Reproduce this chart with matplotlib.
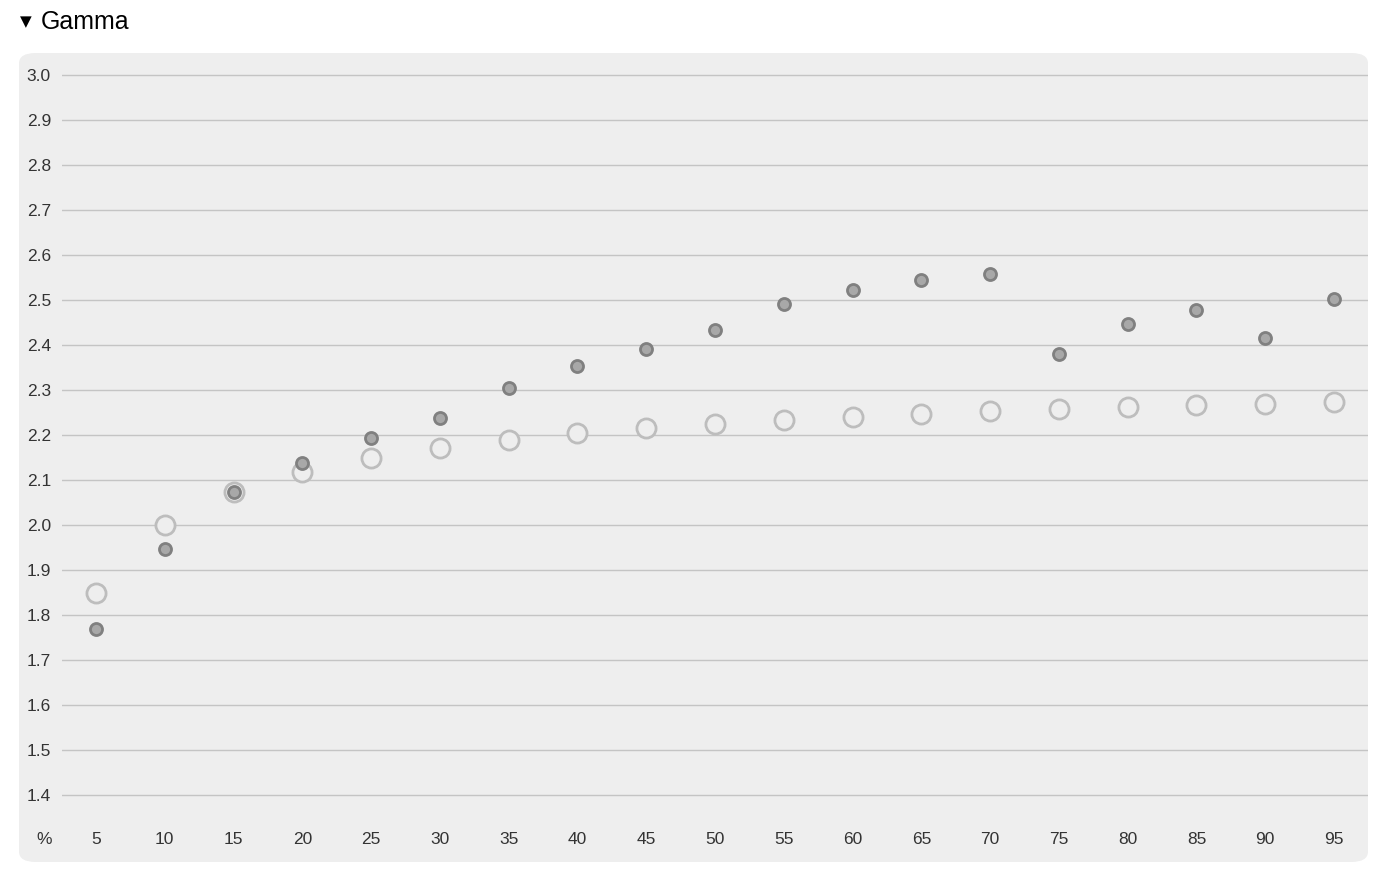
import matplotlib.pyplot as plt
from matplotlib.patches import FancyBboxPatch

plt.rcParams['font.family'] = ['Liberation Sans', 'DejaVu Sans']

W, H = 1380, 876

percent = [5, 10, 15, 20, 25, 30, 35, 40, 45, 50, 55, 60, 65, 70, 75, 80, 85, 90, 95]
gamma_measured = [1.769, 1.947, 2.073, 2.138, 2.193, 2.238, 2.304, 2.353, 2.391, 2.433,
                  2.491, 2.522, 2.544, 2.558, 2.380, 2.447, 2.478, 2.416, 2.502]
gamma_target = [1.849, 2.000, 2.073, 2.118, 2.149, 2.171, 2.189, 2.204, 2.216, 2.224,
                2.233, 2.240, 2.247, 2.253, 2.258, 2.262, 2.267, 2.269, 2.273]
y_ticks = [1.4, 1.5, 1.6, 1.7, 1.8, 1.9, 2.0, 2.1, 2.2, 2.3, 2.4, 2.5, 2.6, 2.7, 2.8, 2.9, 3.0]

fig = plt.figure(figsize=(W / 100, H / 100), dpi=100)
fig.patch.set_facecolor('white')

# painel de fundo arredondado (atrás dos eixos)
panel = FancyBboxPatch((19 / W, 1 - 862 / H), (1368 - 19) / W, (862 - 53) / H,
                       boxstyle="round,pad=0,rounding_size=0.012",
                       transform=fig.transFigure, facecolor='#eeeeee', edgecolor='none',
                       zorder=-10)
fig.patches.append(panel)

fig.text(20 / W, 1 - 22 / H, "\u25BC", fontsize=11, va='center', ha='left', family='DejaVu Sans')
fig.text(41 / W, 1 - 22 / H, "Gamma", fontsize=18, va='center', ha='left')

ax = fig.add_axes([62 / W, 1 - 862 / H, (1368 - 62) / W, (862 - 53) / H])
ax.set_zorder(1)
ax.set_facecolor('none')
ax.patch.set_alpha(0)
ax.set_xlim(2.53, 97.47)
ax.set_ylim(1.251, 3.049)
for s in ax.spines.values():
    s.set_visible(False)
for t in y_ticks:
    ax.axhline(t, color='#c4c4c4', lw=1, zorder=1)
ax.set_yticks(y_ticks)
ax.set_yticklabels([f"{t:.1f}" for t in y_ticks], fontsize=12.5, color='#333333')
ax.tick_params(axis='y', length=0, pad=8)
ax.set_xticks([])
for p in percent:
    ax.text(p, 1.4 - 45 / 450, str(p), ha='center', va='center', fontsize=12.5, color='#333333')
fig.text(44 / W, 1 - 840 / H, "%", ha='center', va='center', fontsize=12.5, color='#333333')

ax.scatter(percent, gamma_target, s=190, facecolor='#eeeeee', edgecolor='#bdbdbd', linewidth=2, zorder=3)
ax.scatter(percent, gamma_measured, s=75, facecolor='#a8a8a8', edgecolor='#808080', linewidth=2, zorder=4)

fig.savefig("out.png", dpi=100)
